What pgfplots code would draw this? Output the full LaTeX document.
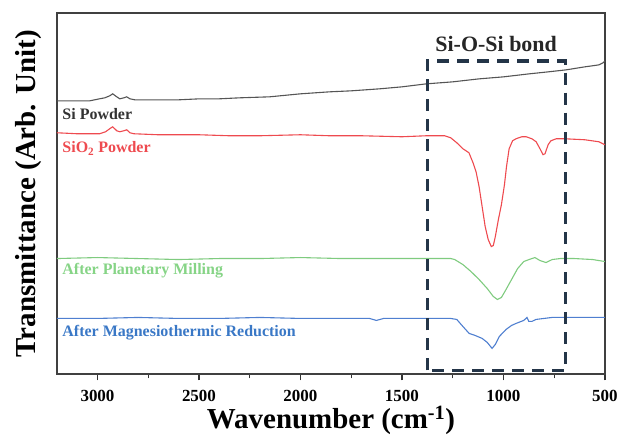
\documentclass[border=0pt]{standalone}
\usepackage{fontspec}
\setmainfont{Liberation Serif}
\usepackage{pgfplots}
\pgfplotsset{compat=1.18}

\definecolor{siblack}{HTML}{555555}
\definecolor{sired}{HTML}{EE4A4F}
\definecolor{sigreen}{HTML}{7FCB7F}
\definecolor{siblue}{HTML}{4F7FD0}
\definecolor{boxnavy}{HTML}{243548}
\definecolor{labgreen}{HTML}{86D486}
\definecolor{labblue}{HTML}{3A78C6}

\begin{document}
\begin{tikzpicture}
\begin{axis}[
    width=549pt, height=362pt, scale only axis,
    xmin=500, xmax=3200, ymin=0, ymax=362,
    x dir=reverse,
    xtick={500,1000,...,3000},
    minor x tick num=1,
    ytick=\empty,
    xtick pos=lower,
    tick align=outside,
    major tick length=6pt, minor tick length=4pt,
    every tick/.style={black!80, line width=1.2pt},
    axis line style={black!75, line width=1.8pt},
    xticklabel style={font=\fontsize{17}{19}\selectfont\bfseries, yshift=-6pt},
    /pgf/number format/assume math mode=true,
    /pgf/number format/1000 sep={},
    xlabel={\fontsize{29}{32}\selectfont\bfseries Wavenumber (cm\textsuperscript{-1})},
    ylabel={\fontsize{29}{32}\selectfont\bfseries Transmittance (Arb. Unit)},
    xlabel style={yshift=0pt, inner sep=1pt},
    ylabel style={yshift=6pt},
    clip=false,
]
% Si powder
\addplot[siblack, line width=1.1pt] coordinates {
(3200,274)(3100,274)(3038,274)(2990,276)(2964,277)(2940,279)(2925,281)(2905,278)(2890,276)
(2870,277)(2856,278)(2840,276)(2816,275)(2700,275)(2600,275)(2497,276)(2400,276)(2300,277)
(2152,278)(2000,281)(1857,283)(1750,284)(1611,286)(1500,288)(1380,291)(1250,293)(1120,296)
(1000,298)(874,301)(780,303)(692,305)(600,308)(530,310)(510,312)(500,314)};
% SiO2 powder
\addplot[sired, line width=1.1pt] coordinates {
(3200,242)(3100,241)(2990,241)(2960,243)(2940,246)(2925,248)(2905,244)(2890,243)(2870,244)
(2856,245)(2840,242)(2820,241)(2700,240)(2500,240)(2350,239)(2200,239)(2000,240)(1857,239)
(1700,239)(1500,238)(1380,239)(1290,239)(1260,237)(1230,232)(1200,226)(1170,222)(1150,212)
(1135,203)(1120,188)(1105,168)(1090,148)(1075,135)(1060,128)(1050,129)(1040,138)(1025,155)
(1010,170)(995,190)(985,208)(972,226)(955,234)(938,236)(910,238)(888,238)(860,236)(839,233)
(820,226)(805,220)(795,221)(780,230)(766,234)(740,236)(700,236)(600,235)(530,233)(500,230)};
% after planetary milling
\addplot[sigreen, line width=1.1pt] coordinates {
(3200,116)(3000,117)(2800,116)(2600,115)(2400,116)(2200,116)(2000,117)(1800,116)(1600,116)
(1400,116)(1260,116)(1240,115)(1200,110)(1160,103)(1120,95)(1080,86)(1050,78)(1030,75)
(1010,77)(990,84)(960,95)(930,106)(900,113)(874,115)(845,117)(820,114)(790,112)(760,115)
(720,116)(650,116)(560,115)(500,113)};
% after magnesiothermic reduction
\addplot[siblue, line width=1.1pt] coordinates {
(3200,56)(3000,56)(2800,57)(2600,56)(2400,56)(2200,57)(2000,56)(1800,56)(1660,56)(1626,54)
(1590,56)(1400,56)(1260,56)(1230,55)(1200,48)(1169,41)(1140,39)(1105,36)(1080,32)(1056,26)
(1040,30)(1020,38)(987,45)(960,49)(938,51)(900,54)(884,57)(875,53)(860,53)(840,55)(800,56)
(760,57)(700,57)(600,57)(500,57)};
% Si-O-Si region
\draw[boxnavy, line width=3.4pt, dash pattern=on 12pt off 8pt]
  (axis cs:1375,4) rectangle (axis cs:695,314);
\node[font=\fontsize{22}{24}\selectfont\bfseries, text=black!85] at (axis cs:1036,331) {Si-O-Si bond};
\node[anchor=west, font=\fontsize{16}{18}\selectfont\bfseries, text=black!80] at (axis cs:3190,261) {Si Powder};
\node[anchor=west, font=\fontsize{16}{18}\selectfont\bfseries, text=sired] at (axis cs:3190,226) {SiO\textsubscript{2} Powder};
\node[anchor=west, font=\fontsize{16}{18}\selectfont\bfseries, text=labgreen] at (axis cs:3190,104) {After Planetary Milling};
\node[anchor=west, font=\fontsize{16}{18}\selectfont\bfseries, text=labblue] at (axis cs:3190,42) {After Magnesiothermic Reduction};
\end{axis}
\path ([shift={(-57pt,-61pt)}]current axis.south west) rectangle ([shift={(15pt,13pt)}]current axis.north east);
\end{tikzpicture}
\end{document}
